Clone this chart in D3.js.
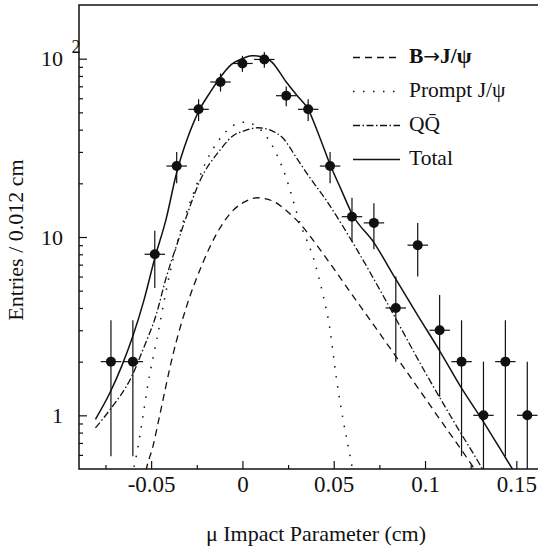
<!DOCTYPE html>
<html><head><meta charset="utf-8">
<script src="https://cdn.jsdelivr.net/npm/d3@7"></script>
<style>
body{margin:0;background:#fff}
svg{display:block}
</style></head><body>
<svg id="c" width="538" height="549"></svg>
<script>
// ---- data ----
const binCenters=[-0.072,-0.060,-0.048,-0.036,-0.024,-0.012,0.000,0.012,0.024,0.036,0.048,0.060,0.072,0.084,0.096,0.108,0.120,0.132,0.144,0.156];
const counts=[2,2,8,25,52,74,94,99,62,52,25,13,12,4,9,3,2,1,2,1];
const countErrors=[1.41,1.41,2.83,5.0,7.21,8.6,9.7,9.95,7.87,7.21,5.0,3.61,3.46,2.0,3.0,1.73,1.41,1.0,1.41,1.0];
const binHalfWidth=0.0056;

const totalX=[-0.0805,-0.0727,-0.066,-0.0599,-0.054,-0.048,-0.0418,-0.036,-0.030,-0.0234,-0.018,-0.012,-0.006,0.000,0.005,0.010,0.016,0.024,0.030,0.036,0.042,0.048,0.054,0.060,0.072,0.084,0.096,0.108,0.120,0.132,0.144,0.150];
const totalY=[0.95,1.33,1.9,2.8,4.4,7.6,12.6,23,36,52,64,79,93,100,104,103,96,74,62,52,37,25.5,18.5,13.5,9.3,5.8,3.64,2.3,1.42,0.92,0.58,0.46];

const bjpsiX=[-0.054,-0.0526,-0.049,-0.0453,-0.038,-0.0307,-0.0216,-0.0142,-0.0051,0.002,0.008,0.016,0.024,0.0314,0.044,0.0588,0.0734,0.0861,0.0971,0.106,0.1254,0.130];
const bjpsiY=[0.42,0.5,0.67,1.0,2.2,4.05,7.2,10.4,14.1,15.9,16.6,16.0,14.1,11.9,8.1,4.95,3.05,2.0,1.38,1.02,0.53,0.45];

const promptX=[-0.062,-0.058,-0.0544,-0.0517,-0.0471,-0.0397,-0.0343,-0.027,-0.0206,-0.0115,-0.006,0.001,0.008,0.016,0.0232,0.0314,0.0396,0.0442,0.0478,0.0515,0.0551,0.0591,0.062];
const promptY=[0.4,0.6,1.0,1.5,2.6,6.3,10.5,17.4,25.5,36.5,41.6,44,41.5,33,22.6,12.1,7.2,4.7,3.1,1.6,0.95,0.58,0.4];

const qqX=[-0.0805,-0.0727,-0.0608,-0.054,-0.0471,-0.0418,-0.036,-0.0307,-0.0234,-0.0124,-0.0051,0.0013,0.0086,0.016,0.022,0.030,0.036,0.046,0.0624,0.077,0.100,0.1153,0.130,0.134];
const qqY=[0.85,1.07,1.64,2.4,3.7,5.9,9.0,13.0,20.5,30.6,37,39.5,41,39.5,36,27.4,22.2,16,8.6,4.7,1.75,0.94,0.53,0.45];

const xMajor=[-0.05,0,0.05,0.1,0.15];
const xMajorLabels=["-0.05","0","0.05","0.1","0.15"];
const xMinor=[-0.075,-0.025,0.025,0.075,0.125];
const yMajor=[1,10,100];
const yMajorLabels=["1","10","10"];
const yMinor=[0.6,0.7,0.8,0.9,2,3,4,5,6,7,8,9,20,30,40,50,60,70,80,90];

// legend labels split in parts so the arrow can use a font with a long arrow glyph
const legendParts=[["B","\u2192","J/\u03c8"],["Prompt J/\u03c8"],["QQ\u0304"],["Total"]];
const xTitle="\u03bc Impact Parameter (cm)";
const yTitle="Entries / 0.012 cm";

// ---- drawing ----
const FONT='"Liberation Serif","DejaVu Serif",serif';
const svg=d3.select("#c");
const L=79,R=538,T=5,B=469;
const x=d3.scaleLinear().domain([-0.0895,0.1625]).range([L,L+0.252*1826]);
const y=d3.scaleLog().domain([0.5,200]).range([B,T]);
const ink="#111";

svg.append("defs").append("clipPath").attr("id","clip")
  .append("rect").attr("x",L).attr("y",T).attr("width",R-L+2).attr("height",B-T);

function styleAxis(g,size){
  g.attr("font-family",null);
  g.select(".domain").remove();
  g.selectAll(".tick line").attr("stroke",ink).attr("stroke-width",1.2);
  g.selectAll(".tick text").style("font-family",FONT).style("font-size",size+"px").attr("fill",ink);
}
const gx=svg.append("g").attr("transform",`translate(0,${B})`)
  .call(d3.axisBottom(x).tickValues(xMajor).tickSize(-8).tickPadding(7)
    .tickFormat((d,i)=>xMajorLabels[i]));
styleAxis(gx,23);
const gx2=svg.append("g").attr("transform",`translate(0,${B})`)
  .call(d3.axisBottom(x).tickValues(xMinor).tickSize(-4).tickFormat(""));
styleAxis(gx2,23);

const gy=svg.append("g").attr("transform",`translate(${L},0)`)
  .call(d3.axisLeft(y).tickValues(yMajor).tickSize(-8).tickPadding(16)
    .tickFormat((d,i)=>yMajorLabels[i]));
styleAxis(gy,22);
const gy2=svg.append("g").attr("transform",`translate(${L},0)`)
  .call(d3.axisLeft(y).tickValues(yMinor).tickSize(-4).tickFormat(""));
styleAxis(gy2,22);
svg.append("text").attr("x",L-7.5).attr("y",y(100)-6).attr("fill",ink)
  .style("font-family",FONT).style("font-size","18px").text("2");

svg.append("path").attr("d",`M${R},${T}H${L}V${B}H${R}`)
  .attr("fill","none").attr("stroke",ink).attr("stroke-width",1.5);

const plot=svg.append("g").attr("clip-path","url(#clip)");
const line=d3.line().x(d=>x(d[0])).y(d=>y(d[1])).curve(d3.curveMonotoneX);
const styles=[
  {dash:"7,5",w:1.3},
  {dash:"1.5,8.5",w:1.5},
  {dash:"7,2.5,1.5,2.5",w:1.3},
  {dash:null,w:1.5}
];
const curves=[d3.zip(bjpsiX,bjpsiY),d3.zip(promptX,promptY),d3.zip(qqX,qqY),d3.zip(totalX,totalY)];
curves.forEach((c,i)=>{
  plot.append("path").attr("d",line(c)).attr("fill","none").attr("stroke",ink)
    .attr("stroke-width",styles[i].w).attr("stroke-dasharray",styles[i].dash);
});

const pts=plot.append("g");
binCenters.forEach((c,i)=>{
  const v=counts[i],e=countErrors[i];
  pts.append("line").attr("x1",x(c)).attr("x2",x(c))
    .attr("y1",y(Math.max(v-e,0.3))).attr("y2",y(v+e))
    .attr("stroke",ink).attr("stroke-width",1.2);
  pts.append("line").attr("x1",x(c-binHalfWidth)).attr("x2",x(c+binHalfWidth))
    .attr("y1",y(v)).attr("y2",y(v)).attr("stroke",ink).attr("stroke-width",1.2);
  pts.append("circle").attr("cx",x(c)).attr("cy",y(v)).attr("r",5).attr("fill",ink);
});

const lg=svg.append("g");
legendParts.forEach((parts,i)=>{
  const yy=57.5+i*34;
  lg.append("line").attr("x1",353).attr("x2",400).attr("y1",yy).attr("y2",yy)
    .attr("stroke",ink).attr("stroke-width",styles[i].w).attr("stroke-dasharray",styles[i].dash);
  const t=lg.append("text").attr("x",409).attr("y",yy-2).attr("dy","0.35em").attr("fill",ink)
    .style("font-family",FONT).style("font-size","21.5px").style("font-weight",i===0?"bold":"normal");
  parts.forEach(p=>{
    const s=t.append("tspan").text(p);
    if(p==="\u2192") s.style("font-family",'"DejaVu Sans",sans-serif').style("font-weight","normal").style("font-size","20px");
  });
});

svg.append("text").attr("x",316).attr("y",541).attr("text-anchor","middle").attr("fill",ink)
  .style("font-family",FONT).style("font-size","22px").text(xTitle);
svg.append("text").attr("transform","translate(23,240) rotate(-90)").attr("text-anchor","middle").attr("fill",ink)
  .style("font-family",FONT).style("font-size","22px").text(yTitle);
</script>
</body></html>
